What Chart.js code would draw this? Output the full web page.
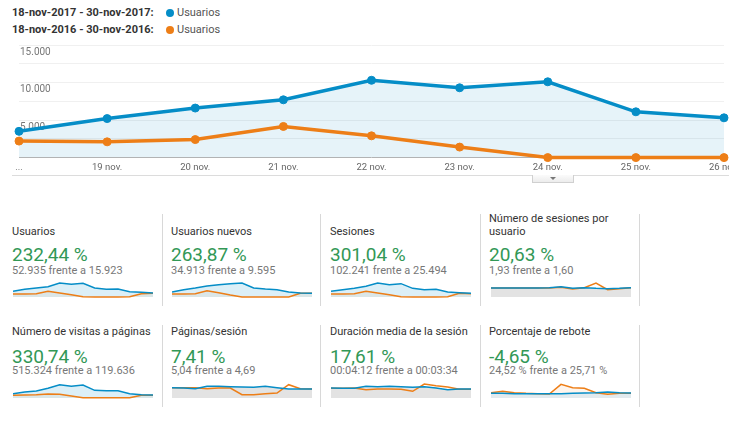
<!DOCTYPE html>
<html lang="es">
<head>
  <meta charset="UTF-8" />
  <title>Usuarios 18-nov-2017 - 30-nov-2017</title>
  <script src="https://cdn.jsdelivr.net/npm/chart.js"></script>
  <style>
    html, body {
      margin: 0;
      padding: 0;
    }
    body {
      width: 729px;
      height: 423px;
      overflow: hidden;
      position: relative;
      background: #fff;
      font-family: Roboto, 'Noto Sans', Arial, sans-serif;
      color: #333;
    }
    .leg {
      position: absolute;
      left: 12px;
      font-size: 11px;
      font-weight: bold;
      line-height: 14px;
      color: #333;
      white-space: nowrap;
    }
    .leg .dot {
      position: absolute;
      left: 154px;
      top: 3px;
      width: 8px;
      height: 8px;
      border-radius: 50%;
    }
    .leg .name {
      position: absolute;
      left: 165px;
      font-weight: normal;
      color: #555;
    }
    #mainWrap {
      position: absolute;
      left: 0;
      top: 38px;
      width: 770px;
      height: 139px;
    }
    #rule {
      position: absolute;
      left: 12px;
      top: 175px;
      width: 717px;
      border-top: 1px solid #dcdcdc;
    }
    #tab {
      position: absolute;
      left: 532px;
      top: 175px;
      width: 40px;
      height: 7px;
      border: 1px solid #d0d0d0;
      border-top: none;
      background: linear-gradient(#fbfbfb, #ececec);
    }
    #tab:after {
      content: '';
      position: absolute;
      left: 17px;
      top: 2px;
      border-left: 3px solid transparent;
      border-right: 3px solid transparent;
      border-top: 3px solid #777;
    }
    .card {
      position: absolute;
      width: 150px;
    }
    .card .title {
      position: absolute;
      left: 0;
      font-size: 11px;
      line-height: 13px;
      color: #333;
      width: 150px;
    }
    .card .big {
      position: absolute;
      left: 0;
      font-size: 19px;
      line-height: 22px;
      color: #329856;
      white-space: nowrap;
    }
    .card .sub {
      position: absolute;
      left: 0;
      font-size: 11px;
      line-height: 13px;
      color: #777;
      white-space: nowrap;
    }
    .sep {
      position: absolute;
      width: 1px;
      background: #d8d8d8;
    }
    .spark {
      position: absolute;
    }
  </style>
</head>
<body>

  <div class="leg" style="top:6px">18-nov-2017 - 30-nov-2017:<span class="dot" style="background:#058dc7"></span><span class="name">Usuarios</span></div>
  <div class="leg" style="top:23px">18-nov-2016 - 30-nov-2016:<span class="dot" style="background:#ed7e17"></span><span class="name">Usuarios</span></div>

  <div id="mainWrap"><canvas id="mainChart" width="770" height="139"></canvas></div>
  <div id="rule"></div>
  <div id="tab"></div>

  <div id="cards"></div>

  <script>
    // main chart, 18 nov - 26 nov visible
    const dias = ['...', '19 nov.', '20 nov.', '21 nov.', '22 nov.', '23 nov.', '24 nov.', '25 nov.', '26 nov.'];
    const usuarios2017 = [3500, 5200, 6600, 7700, 10300, 9300, 10100, 6100, 5300];
    const usuarios2016 = [2200, 2100, 2400, 4150, 2900, 1400, 0, 0, 0];
    const ejeY = [5000, 10000, 15000];

    // scorecards
    const titulos = ['Usuarios', 'Usuarios nuevos', 'Sesiones', 'Número de sesiones por usuario',
      'Número de visitas a páginas', 'Páginas/sesión', 'Duración media de la sesión', 'Porcentaje de rebote'];
    const cambios = ['232,44 %', '263,87 %', '301,04 %', '20,63 %', '330,74 %', '7,41 %', '17,61 %', '-4,65 %'];
    const comparas = ['52.935 frente a 15.923', '34.913 frente a 9.595', '102.241 frente a 25.494', '1,93 frente a 1,60',
      '515.324 frente a 119.636', '5,04 frente a 4,69', '00:04:12 frente a 00:03:34', '24,52 % frente a 25,71 %'];

    // sparklines, 18-30 nov (relative height)
    const spUsuarios17 = [17, 23, 27, 31, 42, 38, 41, 27, 23, 24, 16, 14, 12];
    const spUsuarios16 = [9, 9, 10, 17, 12, 7, 1, 0, 0, 0, 1, 10, 11];
    const spNuevos17 = [15, 22, 27, 33, 37, 40, 42, 27, 24, 22, 15, 12, 11];
    const spNuevos16 = [9, 9, 10, 19, 13, 6, 0, 0, 0, 0, 0, 11, 11];
    const spSesiones17 = [17, 22, 26, 32, 42, 37, 40, 26, 22, 23, 15, 13, 11];
    const spSesiones16 = [9, 9, 10, 17, 12, 7, 1, 0, 0, 0, 1, 11, 10];
    const spSesUsu17 = [27, 27, 27, 27, 27, 28, 31, 26, 28, 26, 25, 26, 28];
    const spSesUsu16 = [27, 27, 27, 27, 27, 27, 29, 24, 28, 42, 22, 25, 28];
    const spVisitas17 = [13, 18, 21, 29, 40, 35, 39, 23, 22, 22, 13, 10, 9];
    const spVisitas16 = [8, 9, 10, 12, 11, 6, 1, 1, 1, 1, 1, 8, 8];
    const spPagSes17 = [31, 30, 28, 35, 35, 34, 33, 32, 35, 31, 27, 27, 27];
    const spPagSes16 = [31, 31, 31, 28, 30, 30, 10, 10, 13, 15, 40, 28, 27];
    const spDuracion17 = [30, 29, 29, 35, 34, 35, 34, 32, 34, 30, 25, 27, 27];
    const spDuracion16 = [29, 29, 30, 25, 27, 27, 26, 20, 42, 37, 33, 26, 26];
    const spRebote17 = [14, 14, 13, 13, 13, 13, 13, 14, 15, 16, 18, 16, 15];
    const spRebote16 = [16, 20, 16, 14, 13, 12, 41, 31, 29, 16, 11, 14, 14];

    const AZUL = '#058dc7';
    const NARANJA = '#ed7e17';

    function puntos(n) {
      return String(n).replace(/\B(?=(\d{3})+(?!\d))/g, '.');
    }

    new Chart(document.getElementById('mainChart'), {
      type: 'line',
      data: {
        labels: dias,
        datasets: [{
          label: 'Usuarios',
          data: usuarios2017,
          borderColor: AZUL,
          backgroundColor: 'rgba(5, 141, 199, 0.1)',
          pointBackgroundColor: AZUL,
          pointBorderColor: AZUL,
          borderWidth: 3.5,
          pointRadius: 4,
          pointBorderWidth: 1,
          fill: 'origin',
          clip: false,
          tension: 0
        }, {
          label: 'Usuarios',
          data: usuarios2016,
          borderColor: NARANJA,
          pointBackgroundColor: NARANJA,
          pointBorderColor: NARANJA,
          borderWidth: 3.5,
          pointRadius: 4,
          pointBorderWidth: 1,
          fill: false,
          clip: false,
          tension: 0
        }]
      },
      options: {
        responsive: false,
        animation: false,
        events: [],
        layout: { padding: { top: 7, left: 17, right: 46, bottom: 0 } },
        plugins: {
          legend: { display: false },
          tooltip: { enabled: false },
          filler: { drawTime: 'beforeDatasetsDraw' }
        },
        scales: {
          x: {
            grid: { display: false, drawTicks: false },
            border: { display: false },
            ticks: {
              color: '#666',
              font: { family: 'Roboto', size: 9.5 },
              padding: 4,
              autoSkip: false,
              maxRotation: 0
            }
          },
          y: {
            min: 0,
            max: 15000,
            border: { display: false },
            grid: {
              drawTicks: false,
              color: ctx => ctx.tick && ctx.tick.value === 0 ? '#b5b5b5' : '#f0f0f0'
            },
            ticks: {
              stepSize: 2500,
              mirror: true,
              padding: 1,
              labelOffset: 7,
              color: '#777',
              font: { family: 'Roboto', size: 10 },
              callback: v => ejeY.includes(v) ? puntos(v) : ''
            }
          }
        }
      }
    });

    const sparks = [
      [spUsuarios17, spUsuarios16, 'azul'],
      [spNuevos17, spNuevos16, 'azul'],
      [spSesiones17, spSesiones16, 'azul'],
      [spSesUsu17, spSesUsu16, 'gris'],
      [spVisitas17, spVisitas16, 'azul'],
      [spPagSes17, spPagSes16, 'gris'],
      [spDuracion17, spDuracion16, 'gris'],
      [spRebote17, spRebote16, 'rebote']
    ];

    const colX = [12, 171, 330, 489];
    const sparkX = [13, 172, 331, 491];
    const sepX = [162, 320, 480, 639];
    const cards = document.getElementById('cards');

    titulos.forEach((t, i) => {
      const row = Math.floor(i / 4);
      const col = i % 4;
      const top = row === 0 ? 212 : 312;
      const card = document.createElement('div');
      card.className = 'card';
      card.style.left = colX[col] + 'px';
      card.style.top = top + 'px';

      const title = document.createElement('div');
      title.className = 'title';
      title.textContent = t;
      const twoLines = (row === 0 && col === 3);
      title.style.top = (twoLines ? 0 : 13) + 'px';
      card.appendChild(title);

      const big = document.createElement('div');
      big.className = 'big';
      big.textContent = cambios[i];
      big.style.top = (row === 0 ? 32 : 34) + 'px';
      card.appendChild(big);

      const sub = document.createElement('div');
      sub.className = 'sub';
      sub.textContent = comparas[i];
      sub.style.top = (row === 0 ? 51.5 : 52) + 'px';
      card.appendChild(sub);
      cards.appendChild(card);

      const sep = document.createElement('div');
      sep.className = 'sep';
      sep.style.left = sepX[col] + 'px';
      sep.style.top = (row === 0 ? 214 : 325) + 'px';
      sep.style.height = (row === 0 ? 92 : 82) + 'px';
      cards.appendChild(sep);

      const c = document.createElement('canvas');
      c.className = 'spark';
      c.width = 140;
      c.height = 24;
      c.style.left = sparkX[col] + 'px';
      c.style.top = (row === 0 ? 275 : 376) + 'px';
      cards.appendChild(c);

      const [d17, d16, estilo] = sparks[i];
      let fill17 = 'rgba(5, 141, 199, 0.14)';
      let fill16 = 'rgba(237, 126, 23, 0.08)';
      let rellena16 = 'origin';
      if (estilo === 'gris') { fill17 = '#e3e3e3'; rellena16 = false; }
      if (estilo === 'rebote') { fill17 = '#e2eaee'; rellena16 = { target: 0, above: fill16, below: 'rgba(0,0,0,0)' }; }

      new Chart(c, {
        type: 'line',
        data: {
          labels: d17.map((_, k) => k),
          datasets: [{
            data: d17,
            borderColor: AZUL,
            backgroundColor: fill17,
            borderWidth: 1.5,
            pointRadius: 0,
            fill: 'origin',
            clip: false
          }, {
            data: d16,
            borderColor: NARANJA,
            backgroundColor: fill16,
            borderWidth: 1.5,
            pointRadius: 0,
            fill: rellena16,
            clip: false
          }]
        },
        options: {
          responsive: false,
          animation: false,
          events: [],
          layout: { padding: { top: 2, bottom: 2, left: 0, right: 0 } },
          plugins: {
            legend: { display: false },
            tooltip: { enabled: false },
            filler: { drawTime: 'beforeDatasetsDraw' }
          },
          scales: {
            x: { display: false },
            y: { display: false, min: 0, max: 60 }
          }
        }
      });
    });
  </script>

</body>
</html>
